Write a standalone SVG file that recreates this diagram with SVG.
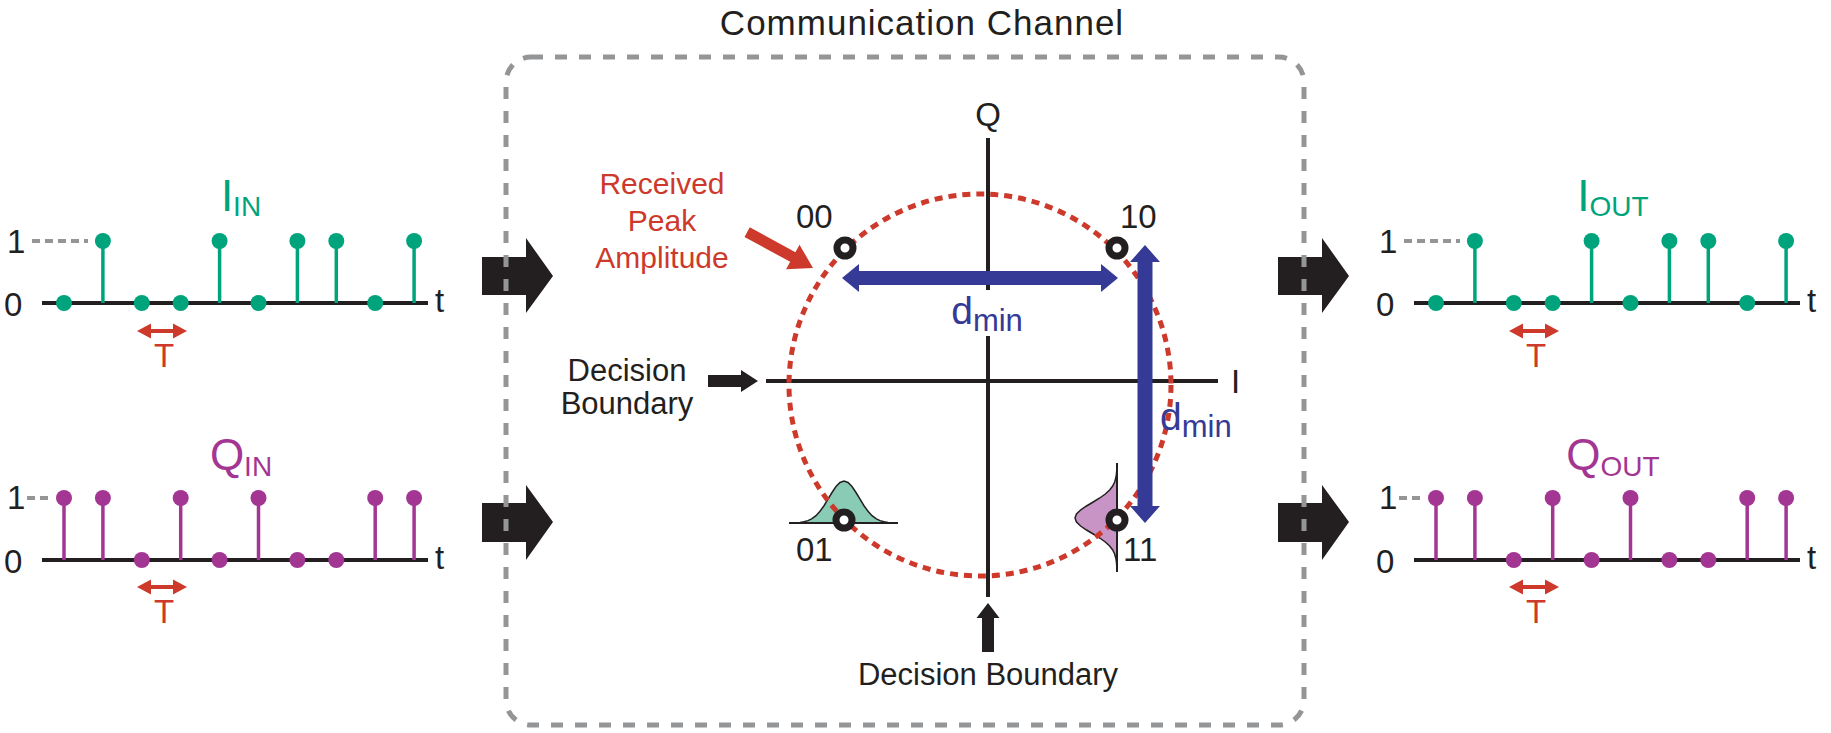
<svg xmlns="http://www.w3.org/2000/svg" width="1831" height="733" viewBox="0 0 1831 733">
<style>
text{font-family:"Liberation Sans",Arial,sans-serif;fill:#231f20}
.lbl{font-size:33px}
.pl{font-size:33px}
.big{font-size:31px}
.sig{font-size:44px}
.sub{font-size:28px}
.teal{fill:#00a47c}
.purp{fill:#a33692}
.red{fill:#cd392b}
.blue{fill:#343a96}
.axis{stroke:#231f20;stroke-width:4;fill:none}
.tstem{stroke:#00a47c;stroke-width:3.5}
.pstem{stroke:#a33692;stroke-width:3.5}
.gdash{stroke:#949597;stroke-width:4;stroke-dasharray:8 5;fill:none}
.tarrow{fill:#cd392b}
.blk{fill:#231f20}
.pt{fill:#fff;stroke:#231f20;stroke-width:7}
</style>

<g id="title"><text x="922" y="35" style="font-size:35px;letter-spacing:1px" text-anchor="middle">Communication Channel</text></g>

<g id="connectors">
<polygon class="blk" points="482,257 526,257 526,238 553,276 526,313 526,295 482,295"/>
<polygon class="blk" points="482,503 526,503 526,485 553,522 526,560 526,542 482,542"/>
<polygon class="blk" points="1278,257 1322,257 1322,238 1349,276 1322,313 1322,295 1278,295"/>
<polygon class="blk" points="1278,503 1322,503 1322,485 1349,522 1322,560 1322,542 1278,542"/>
</g>

<g id="channel-box"><rect x="506" y="57" width="798" height="668" rx="25" ry="25" fill="none" stroke="#949597" stroke-width="5" stroke-dasharray="12 12"/></g>

<g id="input-I">
<text class="sig teal" x="241" y="211" text-anchor="middle">I<tspan class="sub" dy="5">IN</tspan></text>
<text class="lbl" x="7" y="253">1</text>
<text class="lbl" x="4" y="316">0</text>
<text class="lbl" x="435" y="312">t</text>
<line class="gdash" x1="32" y1="241" x2="88" y2="241"/>
<line class="axis" x1="42" y1="303" x2="428" y2="303"/>
<g class="tstem">
<line x1="102.9" y1="241" x2="102.9" y2="303"/><line x1="219.6" y1="241" x2="219.6" y2="303"/><line x1="297.4" y1="241" x2="297.4" y2="303"/><line x1="336.3" y1="241" x2="336.3" y2="303"/><line x1="414.1" y1="241" x2="414.1" y2="303"/>
</g>
<g class="teal">
<circle cx="64" cy="303" r="8"/><circle cx="102.9" cy="241" r="8"/><circle cx="141.8" cy="303" r="8"/><circle cx="180.7" cy="303" r="8"/><circle cx="219.6" cy="241" r="8"/><circle cx="258.5" cy="303" r="8"/><circle cx="297.4" cy="241" r="8"/><circle cx="336.3" cy="241" r="8"/><circle cx="375.2" cy="303" r="8"/><circle cx="414.1" cy="241" r="8"/>
</g>
<polygon class="tarrow" points="137,331 151,323.5 151,329 173,329 173,323.5 187,331 173,338.5 173,333 151,333 151,338.5"/>
<text class="lbl red" x="164" y="367" text-anchor="middle">T</text>
</g>

<g id="input-Q">
<text class="sig purp" x="241" y="470" text-anchor="middle">Q<tspan class="sub" dy="6">IN</tspan></text>
<text class="lbl" x="7" y="509">1</text>
<text class="lbl" x="4" y="573">0</text>
<text class="lbl" x="435" y="569">t</text>
<line class="gdash" x1="27" y1="498" x2="52" y2="498"/>
<line class="axis" x1="42" y1="560" x2="428" y2="560"/>
<g class="pstem">
<line x1="64" y1="498" x2="64" y2="560"/><line x1="102.9" y1="498" x2="102.9" y2="560"/><line x1="180.7" y1="498" x2="180.7" y2="560"/><line x1="258.5" y1="498" x2="258.5" y2="560"/><line x1="375.2" y1="498" x2="375.2" y2="560"/><line x1="414.1" y1="498" x2="414.1" y2="560"/>
</g>
<g class="purp">
<circle cx="64" cy="498" r="8"/><circle cx="102.9" cy="498" r="8"/><circle cx="141.8" cy="560" r="8"/><circle cx="180.7" cy="498" r="8"/><circle cx="219.6" cy="560" r="8"/><circle cx="258.5" cy="498" r="8"/><circle cx="297.4" cy="560" r="8"/><circle cx="336.3" cy="560" r="8"/><circle cx="375.2" cy="498" r="8"/><circle cx="414.1" cy="498" r="8"/>
</g>
<polygon class="tarrow" points="137,587 151,579.5 151,585 173,585 173,579.5 187,587 173,594.5 173,589 151,589 151,594.5"/>
<text class="lbl red" x="164" y="623" text-anchor="middle">T</text>
</g>

<g id="output-I" transform="translate(1372,0)">
<text class="sig teal" x="241" y="211" text-anchor="middle">I<tspan class="sub" dy="5">OUT</tspan></text>
<text class="lbl" x="7" y="253">1</text>
<text class="lbl" x="4" y="316">0</text>
<text class="lbl" x="435" y="312">t</text>
<line class="gdash" x1="32" y1="241" x2="88" y2="241"/>
<line class="axis" x1="42" y1="303" x2="428" y2="303"/>
<g class="tstem">
<line x1="102.9" y1="241" x2="102.9" y2="303"/><line x1="219.6" y1="241" x2="219.6" y2="303"/><line x1="297.4" y1="241" x2="297.4" y2="303"/><line x1="336.3" y1="241" x2="336.3" y2="303"/><line x1="414.1" y1="241" x2="414.1" y2="303"/>
</g>
<g class="teal">
<circle cx="64" cy="303" r="8"/><circle cx="102.9" cy="241" r="8"/><circle cx="141.8" cy="303" r="8"/><circle cx="180.7" cy="303" r="8"/><circle cx="219.6" cy="241" r="8"/><circle cx="258.5" cy="303" r="8"/><circle cx="297.4" cy="241" r="8"/><circle cx="336.3" cy="241" r="8"/><circle cx="375.2" cy="303" r="8"/><circle cx="414.1" cy="241" r="8"/>
</g>
<polygon class="tarrow" points="137,331 151,323.5 151,329 173,329 173,323.5 187,331 173,338.5 173,333 151,333 151,338.5"/>
<text class="lbl red" x="164" y="367" text-anchor="middle">T</text>
</g>

<g id="output-Q" transform="translate(1372,0)">
<text class="sig purp" x="241" y="470" text-anchor="middle">Q<tspan class="sub" dy="6">OUT</tspan></text>
<text class="lbl" x="7" y="509">1</text>
<text class="lbl" x="4" y="573">0</text>
<text class="lbl" x="435" y="569">t</text>
<line class="gdash" x1="27" y1="498" x2="52" y2="498"/>
<line class="axis" x1="42" y1="560" x2="428" y2="560"/>
<g class="pstem">
<line x1="64" y1="498" x2="64" y2="560"/><line x1="102.9" y1="498" x2="102.9" y2="560"/><line x1="180.7" y1="498" x2="180.7" y2="560"/><line x1="258.5" y1="498" x2="258.5" y2="560"/><line x1="375.2" y1="498" x2="375.2" y2="560"/><line x1="414.1" y1="498" x2="414.1" y2="560"/>
</g>
<g class="purp">
<circle cx="64" cy="498" r="8"/><circle cx="102.9" cy="498" r="8"/><circle cx="141.8" cy="560" r="8"/><circle cx="180.7" cy="498" r="8"/><circle cx="219.6" cy="560" r="8"/><circle cx="258.5" cy="498" r="8"/><circle cx="297.4" cy="560" r="8"/><circle cx="336.3" cy="560" r="8"/><circle cx="375.2" cy="498" r="8"/><circle cx="414.1" cy="498" r="8"/>
</g>
<polygon class="tarrow" points="137,587 151,579.5 151,585 173,585 173,579.5 187,587 173,594.5 173,589 151,589 151,594.5"/>
<text class="lbl red" x="164" y="623" text-anchor="middle">T</text>
</g>

<g id="constellation">
<line class="axis" x1="988" y1="138" x2="988" y2="290" stroke-width="3.5"/>
<line class="axis" x1="988" y1="336" x2="988" y2="597" stroke-width="3.5"/>
<line class="axis" x1="766" y1="381" x2="1218" y2="381" stroke-width="3.5"/>
<text class="pl" x="988" y="126" text-anchor="middle">Q</text>
<text class="pl" x="1231" y="393">I</text>
<path d="M789,523 L792,522.9 L796,522.75 L800,522.43 L804,521.8 L808,520.65 L812,518.69 L816,515.64 L820,511.3 L824,505.73 L828,499.22 L832,492.5 L836,486.57 L840,482.47 L844,481 L848,482.47 L852,486.57 L856,492.5 L860,499.22 L864,505.73 L868,511.3 L872,515.64 L876,518.69 L880,520.65 L884,521.8 L888,522.43 L892,522.75 L896,522.9 L898,523" fill="#8acbb6" stroke="#231f20" stroke-width="1.5"/>
<line x1="789" y1="523" x2="898" y2="523" stroke="#231f20" stroke-width="2"/>
<path d="M1117,463 L1117,466 L1116.75,470 L1116.43,474 L1115.8,478 L1114.65,482 L1112.69,486 L1109.64,490 L1105.3,494 L1099.73,498 L1093.22,502 L1086.5,506 L1080.57,510 L1076.47,514 L1075,518 L1076.47,522 L1080.57,526 L1086.5,530 L1093.22,534 L1099.73,538 L1105.3,542 L1109.64,546 L1112.69,550 L1114.65,554 L1115.8,558 L1116.43,562 L1116.75,566 L1116.9,570 L1117,572" fill="#c894c6" stroke="#231f20" stroke-width="1.5"/>
<line x1="1117" y1="463" x2="1117" y2="572" stroke="#231f20" stroke-width="2"/>
<circle cx="980" cy="385" r="191" fill="none" stroke="#cd392b" stroke-width="5" stroke-dasharray="8 6"/>
<circle class="pt" cx="845" cy="248" r="8"/>
<circle class="pt" cx="1117" cy="248" r="8"/>
<circle class="pt" cx="844" cy="520" r="8"/>
<circle class="pt" cx="1117" cy="520" r="8"/>
<text class="pl" x="796" y="228">00</text>
<text class="pl" x="1120" y="228">10</text>
<text class="pl" x="796" y="561">01</text>
<text class="pl" x="1123" y="561">11</text>
<polygon fill="#343a96" points="842,278 859,264 859,271 1101,271 1101,264 1118,278 1101,292 1101,285 859,285 859,292"/>
<polygon fill="#343a96" points="1145,245 1160,262 1152.5,262 1152.5,506 1160,506 1145,523 1130,506 1137.5,506 1137.5,262 1130,262"/>
<text class="blue" x="987" y="324" style="font-size:39px" text-anchor="middle">d<tspan dy="7" style="font-size:31px">min</tspan></text>
<text class="blue" x="1160" y="430" style="font-size:39px">d<tspan dy="7" style="font-size:31px">min</tspan></text>
</g>

<g id="received-peak">
<text class="red" style="font-size:30px" text-anchor="middle"><tspan x="662" y="194">Received</tspan><tspan x="662" y="231">Peak</tspan><tspan x="662" y="268">Amplitude</tspan></text>
<polygon class="tarrow" transform="translate(813,268) rotate(28.6)" points="-75,-5.5 -23,-5.5 -23,-14 0,0 -23,14 -23,5.5 -75,5.5"/>
</g>

<g id="decision-left">
<text class="big" text-anchor="middle"><tspan x="627" y="381">Decision</tspan><tspan x="627" y="414">Boundary</tspan></text>
<polygon class="blk" points="708,375 741,375 741,370 758,381 741,392 741,387 708,387"/>
</g>

<g id="decision-bottom">
<polygon class="blk" points="982,652 982,618 976.5,618 988,603 999.5,618 994,618 994,652"/>
<text class="big" x="988" y="685" text-anchor="middle">Decision Boundary</text>
</g>
</svg>
